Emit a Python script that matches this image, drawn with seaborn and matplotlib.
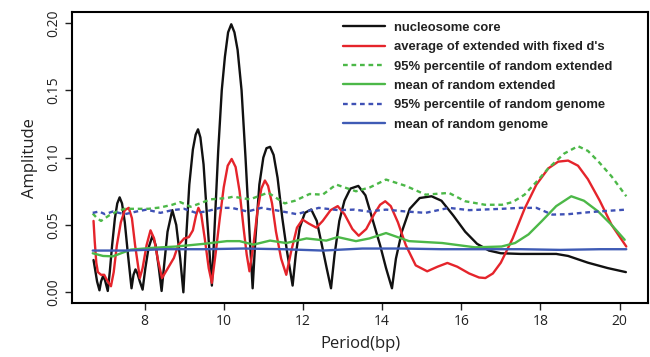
import numpy as np
import pandas as pd
import matplotlib
matplotlib.use("Agg")
import matplotlib.pyplot as plt
import seaborn as sns

# ---- data ----
core_x = [6.71, 6.75, 6.80, 6.86, 6.90, 6.95, 7.00, 7.07,
          7.12, 7.18, 7.25, 7.31, 7.37, 7.43, 7.50, 7.58, 7.67,
          7.72, 7.77, 7.82, 7.88, 7.95,
          8.02, 8.10, 8.20, 8.28, 8.36, 8.43,
          8.50, 8.58, 8.70, 8.80, 8.90, 8.98,
          9.05, 9.13, 9.22, 9.29, 9.35, 9.41, 9.49, 9.58, 9.70,
          9.78, 9.86, 9.95, 10.03, 10.11, 10.19, 10.27, 10.35, 10.45, 10.55, 10.65, 10.73,
          10.80, 10.90, 11.00, 11.08, 11.17, 11.26, 11.36, 11.48, 11.60, 11.74,
          11.82, 11.92, 12.05, 12.21, 12.35, 12.48, 12.60, 12.71,
          12.80, 12.92, 13.05, 13.20, 13.40, 13.58, 13.75, 13.95, 14.10, 14.25,
          14.35, 14.50, 14.70, 14.95, 15.25, 15.50, 15.80, 16.10, 16.40, 16.70,
          17.00, 17.50, 18.00, 18.40, 18.70, 19.20, 19.70, 20.16]
core_y = [0.024, 0.017, 0.008, 0.0015, 0.008, 0.012, 0.009, 0.001,
          0.015, 0.035, 0.055, 0.066, 0.0705, 0.066, 0.052, 0.028, 0.003,
          0.013, 0.017, 0.014, 0.008, 0.002,
          0.018, 0.033, 0.042, 0.035, 0.018, 0.001,
          0.022, 0.045, 0.061, 0.050, 0.025, 0.000,
          0.040, 0.080, 0.106, 0.117, 0.121, 0.115, 0.095, 0.055, 0.005,
          0.055, 0.105, 0.150, 0.175, 0.193, 0.199, 0.193, 0.180, 0.150, 0.100, 0.045, 0.003,
          0.040, 0.080, 0.100, 0.107, 0.108, 0.102, 0.085, 0.055, 0.030, 0.005,
          0.028, 0.048, 0.059, 0.0615, 0.053, 0.035, 0.018, 0.003,
          0.028, 0.053, 0.068, 0.077, 0.079, 0.072, 0.055, 0.035, 0.018, 0.003,
          0.025, 0.045, 0.062, 0.070, 0.0713, 0.068, 0.057, 0.045, 0.036, 0.031,
          0.029, 0.0285, 0.0285, 0.0285, 0.027, 0.022, 0.018, 0.015]

ext_x = [6.71, 6.74, 6.78, 6.82, 6.90, 6.98, 7.05, 7.15, 7.22, 7.30, 7.40, 7.50, 7.60, 7.68, 7.76, 7.88,
         7.95, 8.05, 8.15, 8.24, 8.33, 8.44, 8.55, 8.65, 8.74, 8.85, 9.00, 9.12, 9.22, 9.30, 9.36, 9.43,
         9.52, 9.62, 9.70, 9.80, 9.90, 10.00, 10.10, 10.20, 10.30, 10.40, 10.50, 10.58, 10.65, 10.75,
         10.85, 10.95, 11.04, 11.12, 11.22, 11.32, 11.45, 11.58, 11.70, 11.85, 11.99, 12.15, 12.34, 12.50,
         12.70, 12.88, 13.05, 13.25, 13.41, 13.60, 13.80, 13.95, 14.08, 14.22, 14.40, 14.60, 14.85, 15.14,
         15.40, 15.65, 15.90, 16.20, 16.45, 16.61, 16.80, 17.00, 17.30, 17.60, 17.90, 18.20, 18.45, 18.70,
         18.95, 19.20, 19.50, 19.80, 20.17]
ext_y = [0.053, 0.038, 0.022, 0.015, 0.013, 0.013, 0.009, 0.0045, 0.015, 0.035, 0.052, 0.061, 0.0627,
         0.055, 0.035, 0.0106, 0.018, 0.035, 0.046, 0.040, 0.025, 0.0106, 0.016, 0.021, 0.0255, 0.035,
         0.040, 0.041, 0.046, 0.057, 0.0627, 0.058, 0.040, 0.018, 0.007, 0.030, 0.055, 0.078, 0.094, 0.099,
         0.093, 0.075, 0.048, 0.028, 0.0156, 0.035, 0.060, 0.077, 0.083, 0.079, 0.066, 0.045, 0.025, 0.013,
         0.030, 0.048, 0.054, 0.051, 0.048, 0.053, 0.061, 0.064, 0.058, 0.047, 0.042, 0.047, 0.058, 0.065,
         0.0676, 0.064, 0.052, 0.035, 0.020, 0.0156, 0.019, 0.0218, 0.019, 0.014, 0.011, 0.0106, 0.014,
         0.022, 0.040, 0.062, 0.080, 0.092, 0.097, 0.0978, 0.094, 0.084, 0.068, 0.050, 0.034]

p95ext_x = [6.69, 6.80, 6.90, 7.10, 7.30, 7.50, 7.80, 8.10, 8.40, 8.70, 8.90, 9.16, 9.40, 9.66, 10.08, 10.24,
            10.66, 11.12, 11.54, 11.80, 12.17, 12.50, 12.84, 13.34, 13.70, 14.10, 14.60, 15.10, 15.69, 16.10,
            16.60, 17.03, 17.30, 17.60, 17.90, 18.20, 18.60, 18.95, 19.20, 19.46, 19.80, 20.17]
p95ext_y = [0.0585, 0.055, 0.053, 0.057, 0.060, 0.062, 0.062, 0.062, 0.063, 0.065, 0.067, 0.0635, 0.066,
            0.069, 0.070, 0.071, 0.069, 0.074, 0.066, 0.068, 0.073, 0.0725, 0.080, 0.075, 0.078, 0.0837,
            0.079, 0.0725, 0.0738, 0.0676, 0.065, 0.065, 0.067, 0.0725, 0.082, 0.092, 0.103, 0.1085, 0.105,
            0.0973, 0.086, 0.0713]

meanext_x = [6.69, 6.95, 7.20, 7.65, 8.20, 8.80, 9.50, 10.08, 10.40, 10.75, 11.17, 11.58, 12.09, 12.59, 12.88,
             13.34, 13.68, 14.10, 14.68, 15.52, 16.35, 17.02, 17.36, 17.70, 18.03, 18.40, 18.78, 19.10, 19.46,
             19.80, 20.13]
meanext_y = [0.029, 0.027, 0.0267, 0.0317, 0.033, 0.034, 0.036, 0.038, 0.038, 0.0354, 0.0384, 0.0366, 0.040,
             0.0384, 0.041, 0.038, 0.040, 0.044, 0.038, 0.0366, 0.0334, 0.034, 0.0366, 0.043, 0.0527, 0.064,
             0.0713, 0.068, 0.060, 0.050, 0.039]

p95gen_x = [6.69, 6.85, 7.00, 7.20, 7.50, 7.80, 8.05, 8.40, 8.70, 9.00, 9.30, 9.55, 9.90, 10.20, 10.60, 10.95,
            11.30, 11.85, 12.40, 12.90, 13.30, 13.65, 14.10, 14.60, 15.10, 15.69, 16.20, 17.03, 17.50, 17.90,
            18.30, 18.70, 19.20, 19.46, 20.17]
p95gen_y = [0.059, 0.060, 0.058, 0.060, 0.058, 0.060, 0.0614, 0.059, 0.061, 0.062, 0.059, 0.060, 0.0627,
            0.0627, 0.060, 0.0627, 0.061, 0.058, 0.0627, 0.061, 0.0614, 0.060, 0.0614, 0.060, 0.059, 0.0627,
            0.061, 0.062, 0.0627, 0.0627, 0.0577, 0.058, 0.0594, 0.060, 0.0614]

meangen_x = [6.69, 7.50, 8.50, 9.50, 10.50, 11.50, 12.50, 13.50, 14.50, 15.50, 16.50, 17.50, 18.50, 19.50, 20.17]
meangen_y = [0.031, 0.031, 0.032, 0.032, 0.0325, 0.032, 0.031, 0.0325, 0.0325, 0.032, 0.032, 0.032, 0.0315,
             0.032, 0.032]

labels = ["nucleosome core", "average of extended with fixed d's", "95% percentile of random extended",
          "mean of random extended", "95% percentile of random genome", "mean of random genome"]
x_ticks = [8, 10, 12, 14, 16, 18, 20]
y_ticks = [0.00, 0.05, 0.10, 0.15, 0.20]

# ---- styling ----
sns.set_style("white")
plt.rcParams["font.family"] = ["Open Sans", "DejaVu Sans"]

fig = plt.figure(figsize=(6.5, 3.57), dpi=100)
ax = fig.add_axes([0.111, 0.151, 0.886, 0.815])

series = [
    (core_x, core_y, "#111111", "-"),
    (ext_x, ext_y, "#e5242b", "-"),
    (p95ext_x, p95ext_y, "#4cb848", (0, (2, 1.6))),
    (meanext_x, meanext_y, "#4cb848", "-"),
    (p95gen_x, p95gen_y, "#3f51b5", (0, (2, 1.6))),
    (meangen_x, meangen_y, "#3f5bb5", "-"),
]
for (xs, ys, col, ls), lab in zip(series, labels):
    sns.lineplot(x=xs, y=ys, ax=ax, color=col, linestyle=ls, linewidth=1.7, label=lab,
                 sort=False, estimator=None)

ax.set_xlim(6.17, 20.72)
ax.set_ylim(-0.008, 0.208)
ax.set_xticks(x_ticks)
ax.set_xticklabels([str(t) for t in x_ticks])
ax.set_yticks(y_ticks)
ax.set_yticklabels([f"{t:.2f}" for t in y_ticks], rotation=90, va="center")
ax.tick_params(axis="both", direction="out", length=5, width=1, labelsize=10, colors="#222222",
               bottom=True, left=True, pad=3)
for s in ax.spines.values():
    s.set_visible(True)
    s.set_color("black")
    s.set_linewidth(1.5)
ax.set_xlabel("Period(bp)", fontsize=12, color="#222222", labelpad=5)
ax.set_ylabel("Amplitude", fontsize=12, color="#222222", labelpad=6)

leg = ax.legend(loc="upper left", bbox_to_anchor=(0.45, 1.008), frameon=False,
                handlelength=3.2, handletextpad=0.7, labelspacing=0.56,
                prop={"family": ["Liberation Sans", "DejaVu Sans"], "weight": "bold", "size": 9.4})
for t in leg.get_texts():
    t.set_color("#222222")

fig.savefig("out.png", dpi=100)
